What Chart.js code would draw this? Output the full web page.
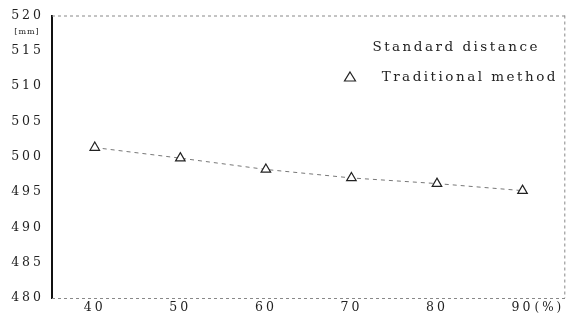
<!DOCTYPE html>
<html>
<head>
<meta charset="utf-8">
<script src="https://cdn.jsdelivr.net/npm/chart.js@4/dist/chart.umd.min.js"></script>
<style>
  body { margin: 0; background: #fff; }
  #wrap { width: 572px; height: 320px; }
</style>
</head>
<body>
<div id="wrap"><canvas id="myChart"></canvas></div>
<script>
const ratios = [40, 50, 60, 70, 80, 90];
const traditional = [501.3, 499.8, 498.2, 497.0, 496.2, 495.2];
const xTicks = [40, 50, 60, 70, 80, 90];
const yTicks = [480, 485, 490, 495, 500, 505, 510, 515, 520];
const legendLabels = ['Standard distance', 'Traditional method'];

const font = "'DejaVu Serif', 'Liberation Serif', serif";

// dotted frame on top, bottom and right + extra texts + legend
const framePlugin = {
  id: 'frame',
  beforeDraw(chart) {
    chart.ctx.letterSpacing = '3px';
  },
  afterDraw(chart) {
    const ctx = chart.ctx;
    const a = chart.chartArea;
    ctx.save();
    ctx.strokeStyle = '#888';
    ctx.lineWidth = 1;
    ctx.setLineDash([3, 3]);
    ctx.beginPath();
    ctx.moveTo(a.left, a.top + 0.5); ctx.lineTo(a.right, a.top + 0.5);
    ctx.moveTo(a.left, a.bottom + 0.5); ctx.lineTo(a.right, a.bottom + 0.5);
    ctx.moveTo(a.right - 0.5, a.top); ctx.lineTo(a.right - 0.5, a.bottom);
    ctx.stroke();
    ctx.setLineDash([]);

    ctx.fillStyle = '#222';
    ctx.letterSpacing = '1px';
    ctx.font = '8px ' + font;
    ctx.textAlign = 'center';
    ctx.textBaseline = 'middle';
    ctx.fillText('[mm]', 27, 32);

    ctx.letterSpacing = '3px';
    ctx.font = '12px ' + font;
    ctx.textAlign = 'left';
    const xs = chart.scales.x;
    ctx.fillText('(%)', xs.getPixelForValue(90) + 12, a.bottom + 10);

    // legend
    ctx.font = '13.5px ' + font;
    ctx.letterSpacing = '2.5px';
    ctx.textAlign = 'right';
    ctx.fillText(legendLabels[0], 540, 47);
    ctx.fillText(legendLabels[1], 558, 77);
    ctx.letterSpacing = '0px';
    ctx.strokeStyle = '#222';
    ctx.lineWidth = 1.2;
    ctx.beginPath();
    ctx.moveTo(350, 72); ctx.lineTo(355.5, 81); ctx.lineTo(344.5, 81); ctx.closePath();
    ctx.stroke();
    ctx.restore();
  }
};

var ctx = document.getElementById('myChart').getContext('2d');

var myChart = new Chart(ctx, {
  type: 'line',
  data: {
    datasets: [{
      label: legendLabels[1],
      data: ratios.map((r, i) => ({ x: r, y: traditional[i] })),
      borderColor: '#777',
      borderWidth: 1,
      borderDash: [4, 4],
      pointStyle: 'triangle',
      pointRadius: 5.5,
      pointBackgroundColor: '#fff',
      pointBorderColor: '#222',
      pointBorderWidth: 1.2,
      fill: false,
      tension: 0
    }]
  },
  options: {
    responsive: true,
    maintainAspectRatio: false,
    animation: false,
    layout: { padding: { top: 15, right: 5, left: 0, bottom: 0 } },
    plugins: {
      legend: { display: false },
      tooltip: { enabled: false }
    },
    scales: {
      x: {
        type: 'linear',
        min: 35,
        max: 95,
        afterBuildTicks: (s) => { s.ticks = xTicks.map(v => ({ value: v })); },
        afterFit: (s) => { s.height = 22; },
        grid: { display: false, drawTicks: false },
        border: { display: false },
        ticks: {
          color: '#222',
          font: { family: font, size: 12.5 },
          padding: 2,
          maxRotation: 0
        }
      },
      y: {
        min: 480,
        max: 520,
        afterBuildTicks: (s) => { s.ticks = yTicks.map(v => ({ value: v })); },
        afterFit: (s) => { s.width = 52; },
        grid: { display: false, drawTicks: false },
        border: { display: true, color: '#111', width: 2 },
        ticks: {
          color: '#222',
          font: { family: font, size: 12.5 },
          padding: 8
        }
      }
    }
  },
  plugins: [framePlugin]
});
</script>
</body>
</html>
